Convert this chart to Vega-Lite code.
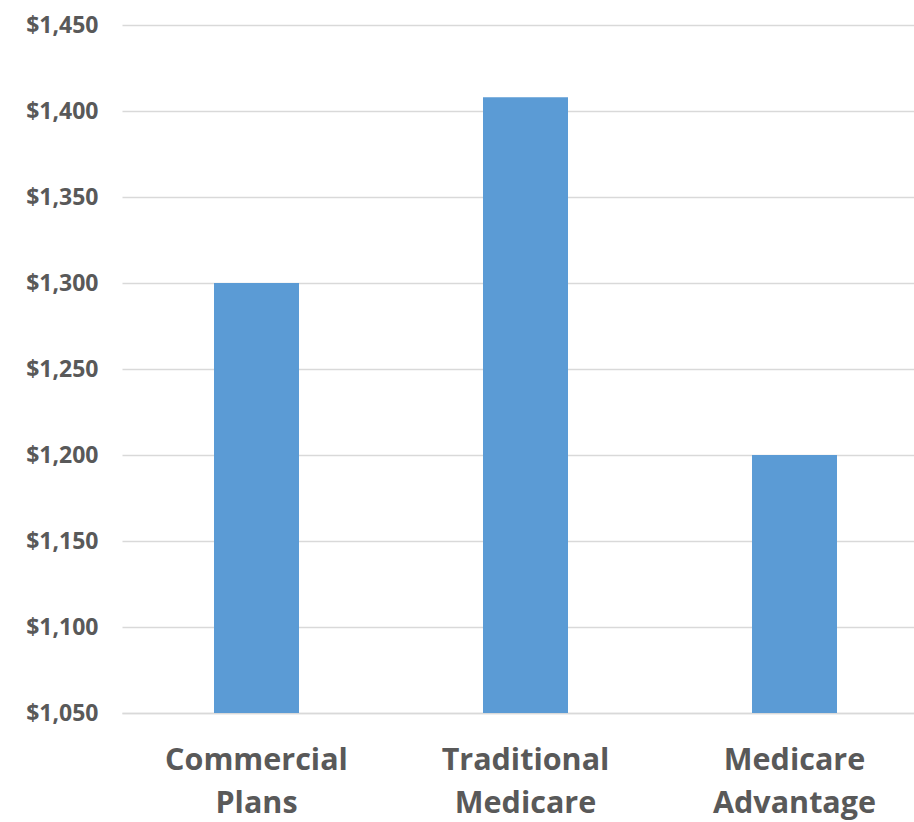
{
  "$schema": "https://vega.github.io/schema/vega-lite/v6.json",
  "autosize": "none",
  "padding": {"left": 122, "top": 25, "right": 0, "bottom": 109},
  "width": 807,
  "height": 688,
  "background": "white",
  "config": {"view": {"stroke": null}},
  "data": {"values": [
    {"category": "Commercial Plans", "value": 1300},
    {"category": "Traditional Medicare", "value": 1408},
    {"category": "Medicare Advantage", "value": 1200}
  ]},
  "mark": {"type": "bar", "color": "#5b9bd5", "clip": true},
  "encoding": {
    "x": {
      "field": "category", "type": "nominal", "sort": null,
      "scale": {"paddingInner": 0.684, "paddingOuter": 0.342},
      "axis": {
        "title": null, "labelAngle": 0, "ticks": false,
        "domain": true, "domainColor": "#d9d9d9", "domainWidth": 1.5,
        "labelExpr": "split(datum.label, ' ')", "labelLimit": 400,
        "labelFont": "Open Sans", "labelFontWeight": "bold", "labelFontSize": 30.5,
        "labelColor": "#595959", "labelLineHeight": 43, "labelPadding": 32
      }
    },
    "y": {
      "field": "value", "type": "quantitative",
      "scale": {"domain": [1050, 1450], "zero": false, "nice": false},
      "axis": {
        "title": null, "values": [1050,1100,1150,1200,1250,1300,1350,1400,1450],
        "format": "$,.0f", "domain": false, "ticks": false,
        "labelOverlap": false, "labelFlush": false,
        "gridColor": "#d9d9d9", "gridWidth": 1.5,
        "labelFont": "Open Sans", "labelFontWeight": "bold", "labelFontSize": 23,
        "labelColor": "#595959", "labelPadding": 24
      }
    }
  }
}
